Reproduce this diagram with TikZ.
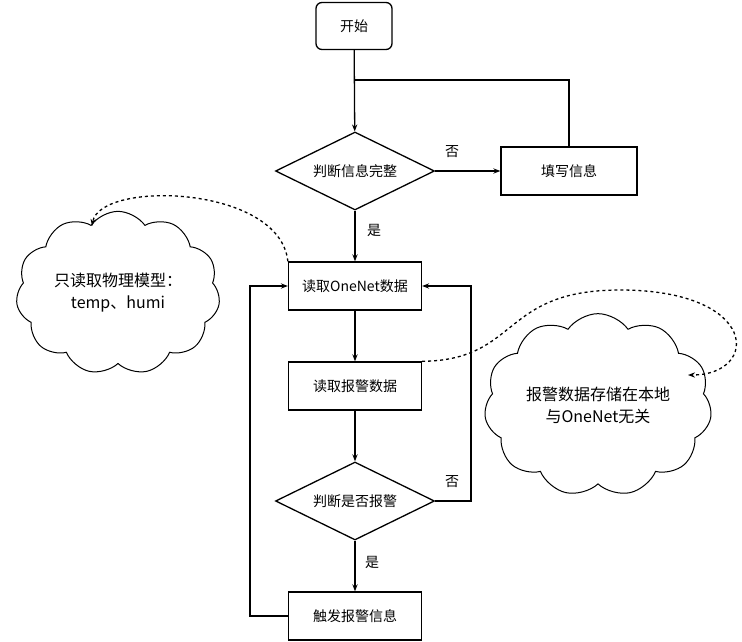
\documentclass[tikz,border=0pt]{standalone}
\usepackage{fontspec}
\setmainfont{Noto Sans CJK SC}
\usetikzlibrary{arrows.meta,shapes.geometric,shapes.symbols}

\tikzset{
	box/.style={draw, line width=1.3pt, minimum width=133pt, minimum height=48pt, font=\fontsize{14}{16}\selectfont},
	decision/.style={draw, line width=1.3pt, diamond, aspect=2.04, minimum width=159pt, minimum height=78pt, inner sep=0pt, font=\fontsize{14}{16}\selectfont},
	bubble/.style={draw, line width=1pt, cloud, cloud puffs=11, cloud puff arc=110, aspect=1.35, minimum width=204pt, minimum height=150pt, align=center, font=\fontsize{16}{22}\selectfont},
	flow/.style={line width=1.3pt, -{Stealth[length=7pt]}},
	note/.style={font=\fontsize{14}{16}\selectfont}
}

\begin{document}
\begin{tikzpicture}[x=1pt, y=-1pt]
	\useasboundingbox (0,0) rectangle (742,642);

	% Knoten
	\node[box, rounded corners=6pt, minimum width=76pt, minimum height=47pt] (start) at (354,26) {开始};
	\node[decision] (check) at (355,171) {判断信息完整};
	\node[box, minimum width=136pt] (fill) at (569,171) {填写信息};
	\node[box] (read) at (355,286) {读取OneNet数据};
	\node[box] (alarm) at (355,386) {读取报警数据};
	\node[decision] (judge) at (355,501) {判断是否报警};
	\node[box] (trig) at (355,616) {触发报警信息};

	\node[bubble] (cl) at (118,293) {只读取物理模型：\\temp、humi};
	\node[bubble, minimum width=190pt, minimum height=135pt] (cr) at (598,405) {报警数据存储在本地\\与OneNet无关};

	% Verbindungen
	\draw[flow] (start) -- (check);
	\draw[flow] (check) -- (fill);
	\draw[line width=1.3pt] (fill.north) |- (355,80);
	\draw[flow] (check) -- (read);
	\draw[flow] (read) -- (alarm);
	\draw[flow] (alarm) -- (judge);
	\draw[flow] (judge) -- (trig);
	\draw[flow] (judge.east) -- (471,501) |- (read.east);
	\draw[flow] (trig.west) -- (250,616) |- (read.west);

	\draw[dashed, line width=1.3pt, -{Stealth[length=7pt]}] (read.north west) .. controls (280,185) and (100,180) .. (92,226);
	\draw[dashed, line width=1.3pt, -{Stealth[length=7pt]}] (alarm.north east) .. controls (520,360) and (500,290) .. (620,290) .. controls (760,290) and (760,375) .. (688,375);

	% Beschriftungen
	\node[note] (n1) at (452,152) {否};
	\node[note] (y1) at (374,230) {是};
	\node[note] (n2) at (452,482) {否};
	\node[note] (y2) at (372,562) {是};
\end{tikzpicture}
\end{document}
